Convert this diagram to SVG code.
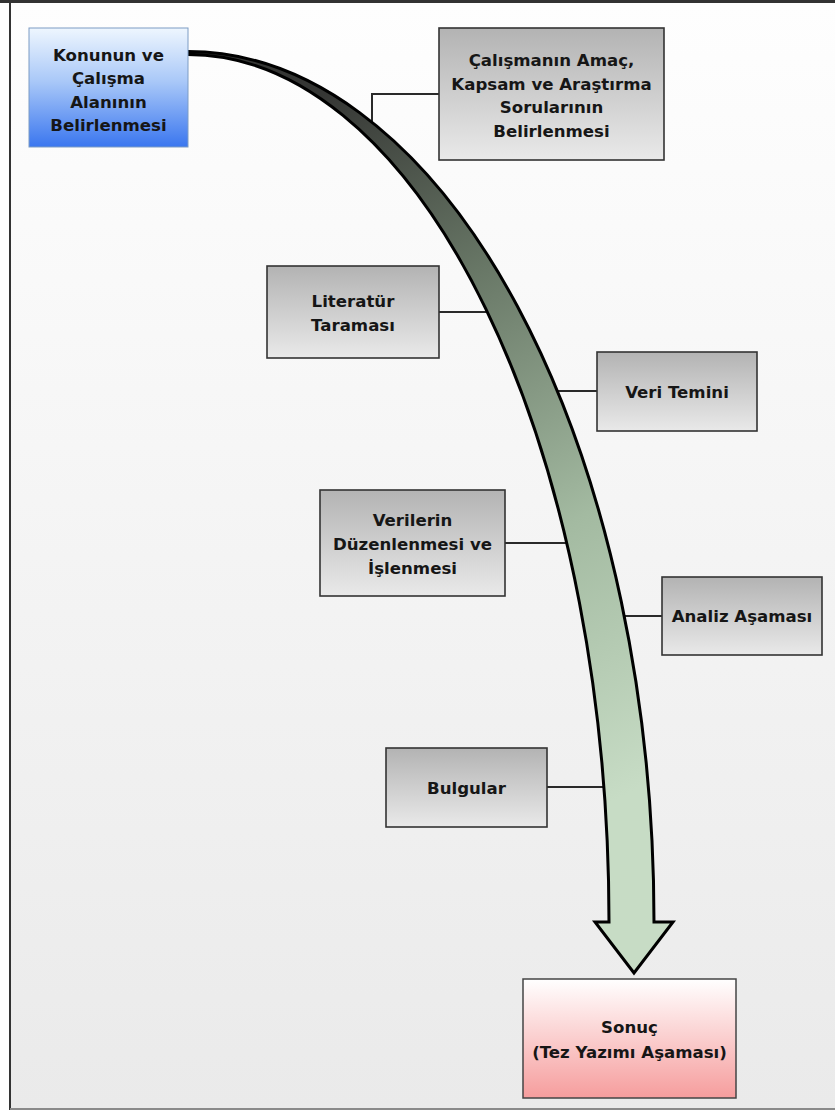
<svg xmlns="http://www.w3.org/2000/svg" width="835" height="1110" viewBox="0 0 835 1110">
  <defs>
    <linearGradient id="bg" x1="0" y1="0" x2="0" y2="1">
      <stop offset="0" stop-color="#fefefe"/>
      <stop offset="1" stop-color="#eaeaea"/>
    </linearGradient>
    <linearGradient id="gray" x1="0" y1="0" x2="0" y2="1">
      <stop offset="0" stop-color="#b3b3b3"/>
      <stop offset="1" stop-color="#e9e9e9"/>
    </linearGradient>
    <linearGradient id="blue" x1="0" y1="0" x2="0" y2="1">
      <stop offset="0" stop-color="#eef6fe"/>
      <stop offset="0.45" stop-color="#a9c8f8"/>
      <stop offset="1" stop-color="#3a76ef"/>
    </linearGradient>
    <linearGradient id="pink" x1="0" y1="0" x2="0" y2="1">
      <stop offset="0" stop-color="#ffffff"/>
      <stop offset="1" stop-color="#f69d9d"/>
    </linearGradient>
    <linearGradient id="flow" gradientUnits="userSpaceOnUse" x1="330" y1="90" x2="690" y2="760">
      <stop offset="0" stop-color="#353634"/>
      <stop offset="0.3" stop-color="#687766"/>
      <stop offset="0.65" stop-color="#a3baa1"/>
      <stop offset="1" stop-color="#c7dcc5"/>
    </linearGradient>
    <style>
      .box { fill: url(#gray); stroke: #333333; stroke-width: 1.6; }
      .start { fill: url(#blue); stroke: #7d9cc4; stroke-width: 1; }
      .end { fill: url(#pink); stroke: #444444; stroke-width: 1.5; }
      .lbl { font-family: "DejaVu Sans", Verdana, sans-serif; font-weight: bold; font-size: 16.6px; fill: #161616; text-anchor: middle; }
      .link { fill: none; stroke: #2a2a2a; stroke-width: 2; }
      .flow { fill: url(#flow); stroke: #000000; stroke-width: 3; stroke-linejoin: miter; }
    </style>
  </defs>

  <!-- page background and frame -->
  <rect x="0" y="0" width="835" height="1110" fill="#ffffff"/>
  <rect x="11" y="3" width="824" height="1105" fill="url(#bg)"/>
  <line x1="0" y1="1.5" x2="835" y2="1.5" stroke="#333333" stroke-width="3"/>
  <line x1="10" y1="0" x2="10" y2="1110" stroke="#333333" stroke-width="2"/>
  <line x1="10" y1="1109" x2="835" y2="1109" stroke="#8a8a8a" stroke-width="2"/>

  <!-- connectors -->
  <g id="connectors">
    <path class="link" d="M439,94 H372 V124"/>
    <path class="link" d="M439,312 H492"/>
    <path class="link" d="M597,391 H554"/>
    <path class="link" d="M505,543 H570"/>
    <path class="link" d="M662,616 H622"/>
    <path class="link" d="M547,787 H607"/>
    <!-- main curved flow arrow -->
    <path class="flow" d="M188,51.5 A466 870.5 0 0 1 654,922 L673,922 L634,973 L595,922 L609,922 A421 867.5 0 0 0 188,54.5 Z"/>
  </g>

  <g id="konu">
    <rect class="start" x="29" y="28" width="159" height="119"/>
    <text class="lbl" x="108.5" y="61">Konunun ve</text>
    <text class="lbl" x="108.5" y="84">Çalışma</text>
    <text class="lbl" x="108.5" y="107.5">Alanının</text>
    <text class="lbl" x="108.5" y="131">Belirlenmesi</text>
  </g>

  <g id="amac">
    <rect class="box" x="439" y="28" width="225" height="132"/>
    <text class="lbl" x="551.5" y="66">Çalışmanın Amaç,</text>
    <text class="lbl" x="551.5" y="89.5">Kapsam ve Araştırma</text>
    <text class="lbl" x="551.5" y="113">Sorularının</text>
    <text class="lbl" x="551.5" y="136.5">Belirlenmesi</text>
  </g>

  <g id="literatur">
    <rect class="box" x="267" y="266" width="172" height="92"/>
    <text class="lbl" x="353" y="307">Literatür</text>
    <text class="lbl" x="353" y="331">Taraması</text>
  </g>

  <g id="veri">
    <rect class="box" x="597" y="352" width="160" height="79"/>
    <text class="lbl" x="677" y="398">Veri Temini</text>
  </g>

  <g id="duzenleme">
    <rect class="box" x="320" y="490" width="185" height="106"/>
    <text class="lbl" x="412.5" y="526">Verilerin</text>
    <text class="lbl" x="412.5" y="550">Düzenlenmesi ve</text>
    <text class="lbl" x="412.5" y="573.5">İşlenmesi</text>
  </g>

  <g id="analiz">
    <rect class="box" x="662" y="577" width="160" height="78"/>
    <text class="lbl" x="742" y="622">Analiz Aşaması</text>
  </g>

  <g id="bulgular">
    <rect class="box" x="386" y="748" width="161" height="79"/>
    <text class="lbl" x="466.5" y="794">Bulgular</text>
  </g>

  <g id="sonuc">
    <rect class="end" x="523" y="979" width="213" height="119"/>
    <text class="lbl" x="629.5" y="1033">Sonuç</text>
    <text class="lbl" x="629.5" y="1058">(Tez Yazımı Aşaması)</text>
  </g>
</svg>
